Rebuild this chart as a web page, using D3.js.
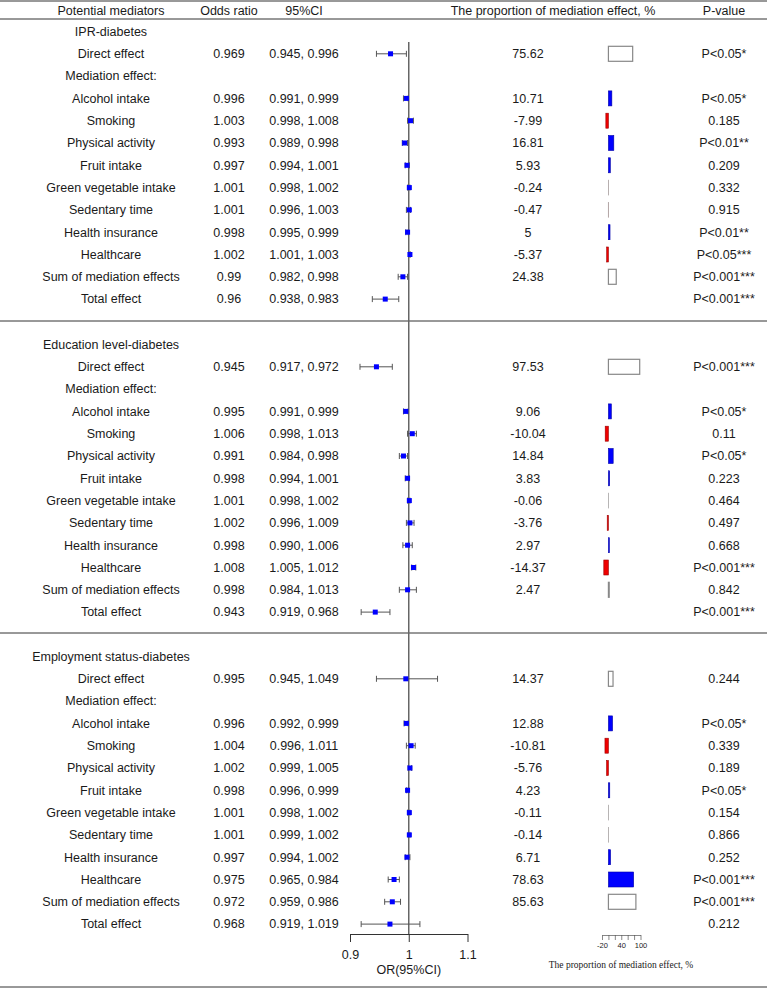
<!DOCTYPE html>
<html>
<head>
<meta charset="utf-8">
<script src="https://cdn.jsdelivr.net/npm/d3@7"></script>
<style>
  body { margin: 0; background: #fff; }
  svg text { font-family: "Liberation Sans", Arial, sans-serif; fill: #1a1a1a; }
</style>
</head>
<body>
<svg id="chart"></svg>
<script>
// Table content
const sections = ["IPR-diabetes", "Education level-diabetes", "Employment status-diabetes"];
const rowLabels = ["Direct effect", "Mediation effect:", "Alcohol intake", "Smoking", "Physical activity",
  "Fruit intake", "Green vegetable intake", "Sedentary time", "Health insurance", "Healthcare",
  "Sum of mediation effects", "Total effect"];

const orIPR = [0.969, null, 0.996, 1.003, 0.993, 0.997, 1.001, 1.001, 0.998, 1.002, 0.99, 0.96];
const loIPR = [0.945, null, 0.991, 0.998, 0.989, 0.994, 0.998, 0.996, 0.995, 1.001, 0.982, 0.938];
const hiIPR = [0.996, null, 0.999, 1.008, 0.998, 1.001, 1.002, 1.003, 0.999, 1.003, 0.998, 0.983];
const propIPR = [75.62, null, 10.71, -7.99, 16.81, 5.93, -0.24, -0.47, 5, -5.37, 24.38, null];
const pIPR = ["P<0.05*", "", "P<0.05*", "0.185", "P<0.01**", "0.209", "0.332", "0.915", "P<0.01**", "P<0.05***", "P<0.001***", "P<0.001***"];

const orEdu = [0.945, null, 0.995, 1.006, 0.991, 0.998, 1.001, 1.002, 0.998, 1.008, 0.998, 0.943];
const loEdu = [0.917, null, 0.991, 0.998, 0.984, 0.994, 0.998, 0.996, 0.990, 1.005, 0.984, 0.919];
const hiEdu = [0.972, null, 0.999, 1.013, 0.998, 1.001, 1.002, 1.009, 1.006, 1.012, 1.013, 0.968];
const propEdu = [97.53, null, 9.06, -10.04, 14.84, 3.83, -0.06, -3.76, 2.97, -14.37, 2.47, null];
const pEdu = ["P<0.001***", "", "P<0.05*", "0.11", "P<0.05*", "0.223", "0.464", "0.497", "0.668", "P<0.001***", "0.842", "P<0.001***"];

const orEmp = [0.995, null, 0.996, 1.004, 1.002, 0.998, 1.001, 1.001, 0.997, 0.975, 0.972, 0.968];
const loEmp = [0.945, null, 0.992, 0.996, 0.999, 0.996, 0.998, 0.999, 0.994, 0.965, 0.959, 0.919];
const hiEmp = [1.049, null, 0.999, 1.011, 1.005, 0.999, 1.002, 1.002, 1.002, 0.984, 0.986, 1.019];
const propEmp = [14.37, null, 12.88, -10.81, -5.76, 4.23, -0.11, -0.14, 6.71, 78.63, 85.63, null];
const pEmp = ["0.244", "", "P<0.05*", "0.339", "0.189", "P<0.05*", "0.154", "0.866", "0.252", "P<0.001***", "P<0.001***", "0.212"];

const orTicks = [0.9, 1, 1.1];
const propTicks = [-20, 0, 20, 40, 60, 80, 100];
const propTickLabels = [-20, 40, 100];

const groups = [
  { or: orIPR, lo: loIPR, hi: hiIPR, prop: propIPR, p: pIPR },
  { or: orEdu, lo: loEdu, hi: hiEdu, prop: propEdu, p: pEdu },
  { or: orEmp, lo: loEmp, hi: hiEmp, prop: propEmp, p: pEmp }
];

const width = 767, height = 989;
const fs = '12.5px';
const svg = d3.select('#chart').attr('width', width).attr('height', height);

const x = d3.scaleLinear().domain([0.9, 1.1]).range([350, 467.5]);
const xp = d3.scaleLinear().domain([-20, 100]).range([602, 640.5]);
const sectionTop = [31.5, 344.5, 656.5];
const rowStep = 22.3;

const col = { label: 111, or: 229, ci: 304, prop: 528, p: 724 };

// horizontal rules
[1, 19, 321, 633, 987].forEach(yy => {
  svg.append('line').attr('x1', 0).attr('x2', width).attr('y1', yy).attr('y2', yy)
    .style('stroke', '#333').style('stroke-width', 1);
});

// header
const header = [["Potential mediators", col.label], ["Odds ratio", col.or], ["95%CI", col.ci],
  ["The proportion of mediation effect, %", 553], ["P-value", col.p]];
svg.selectAll('.head').data(header).enter().append('text')
  .attr('class', 'head')
  .attr('x', d => d[1]).attr('y', 11).attr('dy', '0.35em')
  .attr('text-anchor', 'middle').style('font-size', fs)
  .text(d => d[0]);

// reference line at OR = 1
svg.append('line').attr('x1', x(1)).attr('x2', x(1)).attr('y1', 42).attr('y2', 934)
  .style('stroke', '#666').style('stroke-width', 1.5);

groups.forEach((g, s) => {
  const y = d3.scaleLinear().domain([0, 1]).range([sectionTop[s], sectionTop[s] + rowStep]);
  const sec = svg.append('g');

  sec.append('text').attr('x', col.label).attr('y', y(0)).attr('dy', '0.35em')
    .attr('text-anchor', 'middle').style('font-size', fs).text(sections[s]);

  const rows = rowLabels.map((lab, i) => ({
    lab, i, or: g.or[i], lo: g.lo[i], hi: g.hi[i], prop: g.prop[i], p: g.p[i]
  }));

  // text columns
  const txt = (cls, xx, f) => sec.selectAll('.' + cls).data(rows).enter().append('text')
    .attr('class', cls).attr('x', xx).attr('y', d => y(d.i + 1)).attr('dy', '0.35em')
    .attr('text-anchor', 'middle').style('font-size', fs).text(f);

  txt('lab', col.label, d => d.lab);
  txt('orv', col.or, d => d.or == null ? '' : d.or);
  txt('civ', col.ci, d => d.lo == null ? '' : d3.format('.3f')(d.lo) + ', ' + d3.format('.3f')(d.hi));
  txt('prv', col.prop, d => d.prop == null ? '' : d.prop);
  txt('pv', col.p, d => d.p);

  // forest marks
  const est = rows.filter(d => d.or != null);
  sec.selectAll('.ci').data(est).enter().append('line')
    .attr('x1', d => x(d.lo)).attr('x2', d => x(d.hi))
    .attr('y1', d => y(d.i + 1)).attr('y2', d => y(d.i + 1))
    .style('stroke', '#555').style('stroke-width', 1);
  ['lo', 'hi'].forEach(k => {
    sec.selectAll('.cap' + k).data(est).enter().append('line')
      .attr('x1', d => x(d[k])).attr('x2', d => x(d[k]))
      .attr('y1', d => y(d.i + 1) - 3).attr('y2', d => y(d.i + 1) + 3)
      .style('stroke', '#555').style('stroke-width', 1);
  });
  sec.selectAll('.pt').data(est).enter().append('rect')
    .attr('x', d => x(d.or) - 2.5).attr('y', d => y(d.i + 1) - 2.5)
    .attr('width', 5).attr('height', 5).style('fill', '#0000ff');

  // proportion bars (white boxes for direct / sum rows)
  const isBox = d => d.i === 0 || d.i === 10;
  const fillOf = d => isBox(d) ? '#fff' : (d.prop >= 0 ? '#0000ff' : '#ee0000');
  const bars = rows.filter(d => d.prop != null);
  sec.selectAll('.bar').data(bars).enter().append('rect')
    .attr('x', d => Math.min(xp(0), xp(d.prop)))
    .attr('y', d => y(d.i + 1) - 7.5)
    .attr('width', d => Math.abs(xp(d.prop) - xp(0)))
    .attr('height', 15)
    .style('fill', fillOf)
    .style('stroke', d => isBox(d) ? '#888' : (Math.abs(d.prop) < 1 ? '#888' : d3.color(fillOf(d)).darker(1.2)))
    .style('stroke-width', d => isBox(d) ? 1.2 : 0.6);
});

// OR axis
const axisOR = svg.append('g').attr('transform', 'translate(0,934)')
  .call(d3.axisBottom(x).tickValues(orTicks).tickSize(8).tickSizeOuter(0).tickFormat(d => d));
axisOR.select('.domain').style('stroke', '#333');
axisOR.selectAll('.tick line').style('stroke', '#333');
axisOR.selectAll('text').style('font-size', fs).style('font-family', '"Liberation Sans", Arial, sans-serif')
  .style('fill', '#1a1a1a').attr('dy', '1.1em');
svg.append('text').attr('x', x(1)).attr('y', 970).attr('dy', '0.35em')
  .attr('text-anchor', 'middle').style('font-size', fs).text('OR(95%CI)');

// proportion axis
const axisP = svg.append('g').attr('transform', 'translate(0,935)')
  .call(d3.axisBottom(xp).tickValues(propTicks).tickSize(5).tickSizeOuter(0)
    .tickFormat(d => propTickLabels.includes(d) ? String(d) : ''));
axisP.select('.domain').style('stroke', '#555').style('stroke-width', 0.7);
axisP.selectAll('.tick line').style('stroke', '#555').style('stroke-width', 0.7);
axisP.selectAll('text').style('font-size', '7.5px').style('font-family', '"Liberation Sans", Arial, sans-serif')
  .style('fill', '#222').attr('y', 8);
svg.append('text').attr('x', 621).attr('y', 965).attr('dy', '0.35em')
  .attr('text-anchor', 'middle')
  .style('font-family', '"Liberation Serif", "Times New Roman", serif').style('font-size', '9.5px')
  .text('The proportion of mediation effect, %');
</script>
</body>
</html>
